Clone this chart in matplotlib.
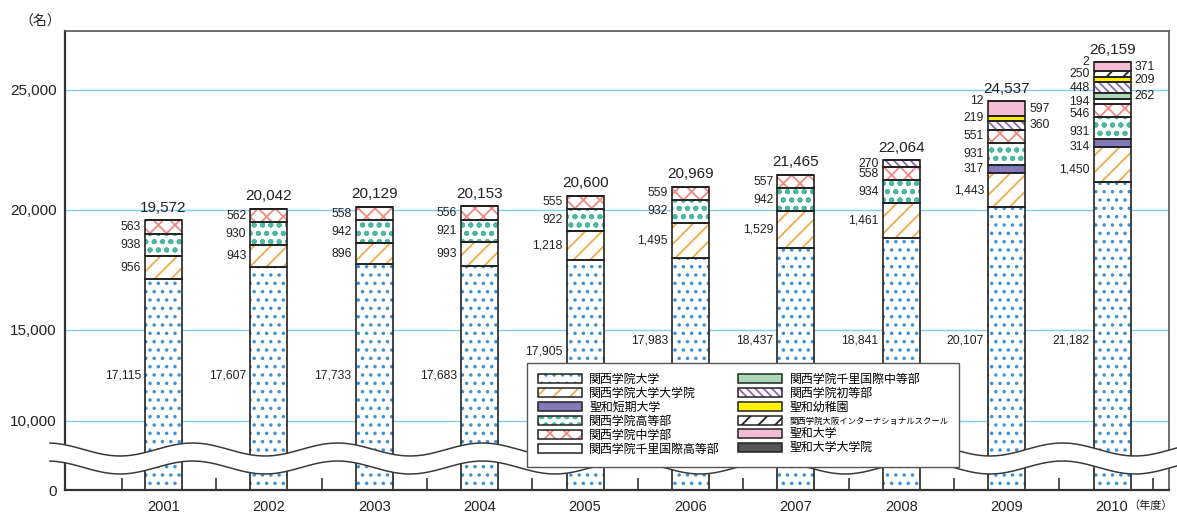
"""Stacked enrollment bars for the Kwansei Gakuin group, 2001-2010."""

import numpy as np
import matplotlib
matplotlib.use('Agg')
import matplotlib.pyplot as plt
from matplotlib.patches import Patch, Polygon
from matplotlib.legend_handler import HandlerTuple

plt.rcParams['font.family'] = ['Liberation Sans', 'Noto Sans CJK JP']
plt.rcParams['hatch.linewidth'] = 1.3

years = ['2001', '2002', '2003', '2004', '2005',
         '2006', '2007', '2008', '2009', '2010']

names = ['関西学院大学', '関西学院大学大学院', '聖和短期大学', '関西学院高等部',
         '関西学院中学部', '関西学院千里国際高等部', '関西学院千里国際中等部',
         '関西学院初等部', '聖和幼稚園', '関西学院大阪インターナショナルスクール',
         '聖和大学', '聖和大学大学院']

univ = [17115, 17607, 17733, 17683, 17905, 17983, 18437, 18841, 20107, 21182]
grad = [956, 943, 896, 993, 1218, 1495, 1529, 1461, 1443, 1450]
junior_college = [0, 0, 0, 0, 0, 0, 0, 0, 317, 314]
high = [938, 930, 942, 921, 922, 932, 942, 934, 931, 931]
middle = [563, 562, 558, 556, 555, 559, 557, 558, 551, 546]
senri_high = [0, 0, 0, 0, 0, 0, 0, 0, 0, 194]
senri_mid = [0, 0, 0, 0, 0, 0, 0, 0, 0, 262]
elementary = [0, 0, 0, 0, 0, 0, 0, 270, 360, 448]
kindergarten = [0, 0, 0, 0, 0, 0, 0, 0, 219, 209]
osaka_intl = [0, 0, 0, 0, 0, 0, 0, 0, 0, 250]
seiwa_univ = [0, 0, 0, 0, 0, 0, 0, 0, 597, 371]
seiwa_grad = [0, 0, 0, 0, 0, 0, 0, 0, 12, 2]

totals = [19572, 20042, 20129, 20153, 20600,
          20969, 21465, 22064, 24537, 26159]

series = [univ, grad, junior_college, high, middle, senri_high, senri_mid,
          elementary, kindergarten, osaka_intl, seiwa_univ, seiwa_grad]

# (face, hatch colour, hatch)
styles = [('white', '#3d92d6', '..'),
          ('white', '#f5a94a', '//'),
          ('#8479b9', '#8479b9', ''),
          ('white', '#4cb8a2', 'oo..'),
          ('white', '#ef8a82', 'xx'),
          ('white', 'white', ''),
          ('#a9d9b9', '#a9d9b9', ''),
          ('white', '#8a68b8', '\\\\\\\\'),
          ('#fff200', '#fff200', ''),
          ('white', '#222222', '//'),
          ('#f6bcd6', '#f6bcd6', ''),
          ('#555555', '#555555', '')]

# labels drawn on the right side of the bar: (series index, year index)
right_labels = {(10, 8), (7, 8), (10, 9), (8, 9), (6, 9)}
# extra downward shift (pixels) of crowded labels in 2010
label_shift = {(1, 9): 5, (2, 9): 4, (3, 9): 4, (4, 9): 4}
# height of the label for the bottom segment (data units)
univ_label_y = [12500, 12500, 12500, 12500, 13800,
                14450, 14450, 14450, 14450, 14450]

# broken y axis: compressed below 15,000
Y_KNOTS = [0, 10000, 15000, 40000]
P_KNOTS = [0, 69, 160, 760]


def fwd(y):
    y = np.asarray(y, float)
    out = np.interp(y, Y_KNOTS, P_KNOTS)
    out = np.where(y < 0, y * 0.0069, out)
    return np.where(y > 40000, 760 + (y - 40000) * 0.024, out)


def inv(p):
    p = np.asarray(p, float)
    out = np.interp(p, P_KNOTS, Y_KNOTS)
    out = np.where(p < 0, p / 0.0069, out)
    return np.where(p > 760, 40000 + (p - 760) / 0.024, out)


fig = plt.figure(figsize=(11.77, 5.13), dpi=100)
ax = fig.add_axes([65 / 1177, 23 / 513, 1104 / 1177, 459 / 513])
ax.set_yscale('function', functions=(fwd, inv))
ax.set_ylim(0, 27458)
ax.set_xlim(-0.9345, 9.54)

x = np.arange(len(years))
width = 0.35
bottom = np.zeros(len(years))
for k, (vals, (fc, hc, hatch)) in enumerate(zip(series, styles)):
    vals = np.array(vals, float)
    ax.bar(x, vals, width, bottom=bottom, color=fc, edgecolor=hc,
           hatch=hatch, linewidth=0, zorder=2)
    ax.bar(x, vals, width, bottom=bottom, fill=False, edgecolor='#222222',
           linewidth=1.2, zorder=2.1)
    for i, v in enumerate(vals):
        if v == 0:
            continue
        ymid = univ_label_y[i] if k == 0 else bottom[i] + v / 2
        dy = -label_shift.get((k, i), 0) / 1.389
        if (k, i) in right_labels:
            ax.annotate(f'{int(v):,}', (x[i] + width / 2, ymid),
                        xytext=(3, dy), textcoords='offset points',
                        ha='left', va='center', fontsize=8.7, color='#222')
        else:
            ax.annotate(f'{int(v):,}', (x[i] - width / 2, ymid),
                        xytext=(-3, dy), textcoords='offset points',
                        ha='right', va='center', fontsize=8.7, color='#222')
    bottom += vals

for i, t in enumerate(totals):
    ax.annotate(f'{t:,}', (x[i], t), xytext=(0, 9),
                textcoords='offset points', ha='center', va='center',
                fontsize=11, color='#222')

# axes styling
ax.set_yticks([0, 10000, 15000, 20000, 25000])
ax.set_yticklabels(['0', '10,000', '15,000', '20,000', '25,000'])
ax.tick_params(axis='y', length=0, pad=6, labelsize=11, labelcolor='#222')
ax.set_xticks(x)
ax.set_xticklabels(years)
ax.tick_params(axis='x', which='major', length=0, pad=7, labelsize=10.5,
               labelcolor='#222')
ax.set_xticks(np.r_[-0.394, np.arange(0.5, 9, 1), 9.39], minor=True)
ax.tick_params(axis='x', which='minor', direction='in', length=8.5,
               width=1.2, color='#333')
ax.grid(axis='y', color='#7fd0ee', linewidth=1)
ax.set_axisbelow(True)
for side in ['left', 'bottom']:
    ax.spines[side].set_linewidth(1.6)
    ax.spines[side].set_color('#333333')
for side in ['top', 'right']:
    ax.spines[side].set_linewidth(1.2)
    ax.spines[side].set_color('#555555')

fig.text(40 / 1177, 1 - 22 / 513, '（名）', ha='center', va='center',
         fontsize=10, color='#222')
fig.text(1151 / 1177, 1 - 506 / 513, '（年度）', ha='center', va='center',
         fontsize=8, color='#222')

# wavy break band, drawn in pixel space then moved to axes fraction
px = np.linspace(50, 1177, 400)
upper = 449.5 + 6.5 * np.cos(2 * np.pi * (px - 120) / 145)
lower = upper + 18
xa = (px - 65) / 1104
ua = (490 - upper) / 459
la = (490 - lower) / 459
band = Polygon(np.c_[np.r_[xa, xa[::-1]], np.r_[ua, la[::-1]]],
               closed=True, facecolor='white', edgecolor='none',
               transform=ax.transAxes, clip_on=False, zorder=4)
ax.add_patch(band)
ax.plot(xa, ua, color='#3a3a3a', lw=1.1, transform=ax.transAxes,
        clip_on=False, zorder=4.5)
ax.plot(xa, la, color='#3a3a3a', lw=1.1, transform=ax.transAxes,
        clip_on=False, zorder=4.5)

handles = []
for fc, hc, hatch in styles:
    handles.append((Patch(facecolor=fc, edgecolor=hc, hatch=hatch, lw=0),
                    Patch(fill=False, edgecolor='#222', lw=1.1)))
leg = ax.legend(handles, names, ncol=2, loc='upper left',
                bbox_to_anchor=(527 / 1177, 1 - 363 / 513),
                bbox_transform=fig.transFigure, borderaxespad=0,
                handler_map={tuple: HandlerTuple(ndivide=1, pad=0)},
                fontsize=8.6, handlelength=3.7, handleheight=0.75,
                labelspacing=0.17, columnspacing=1.55, borderpad=0.9,
                handletextpad=0.6, fancybox=False, edgecolor='#555',
                framealpha=1)
leg.get_frame().set_linewidth(1)
leg.get_texts()[9].set_fontsize(6)
leg.set_zorder(6)

plt.savefig('out.png', dpi=100)
